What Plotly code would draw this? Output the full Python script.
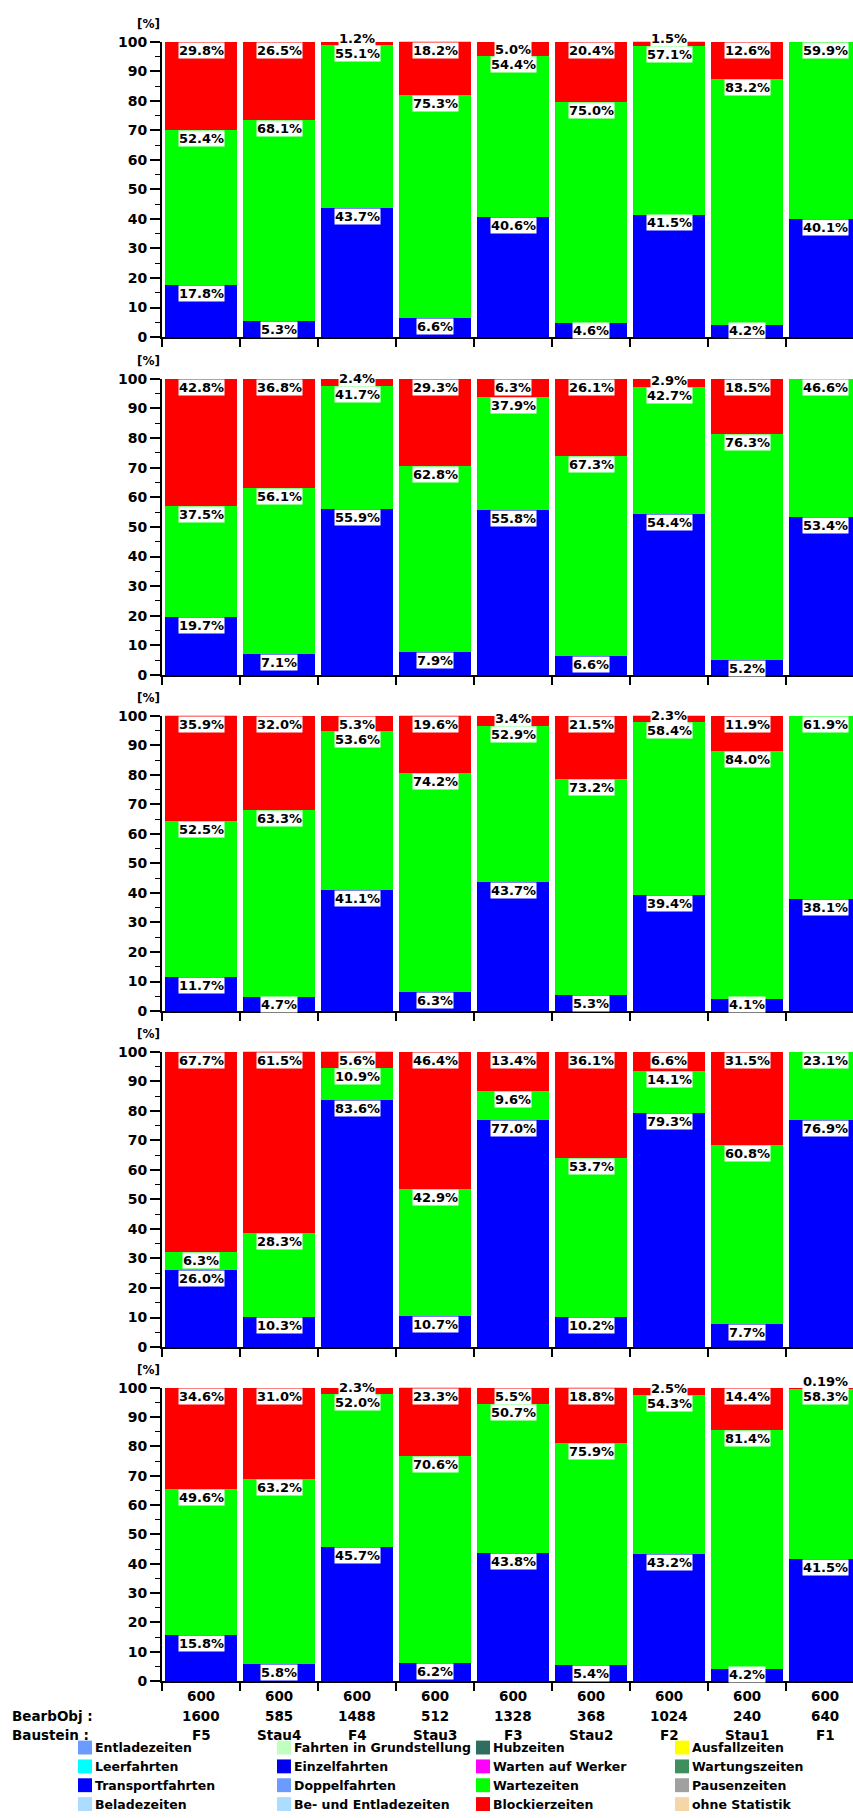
import plotly.graph_objects as go

# ---------------- data ----------------
categories = ["F5", "Stau4", "F4", "Stau3", "F3", "Stau2", "F2", "Stau1", "F1"]
row_top = ["600", "600", "600", "600", "600", "600", "600", "600", "600"]
bearb_obj = ["1600", "585", "1488", "512", "1328", "368", "1024", "240", "640"]

transportfahrten = [
    [17.8, 5.3, 43.7, 6.6, 40.6, 4.6, 41.5, 4.2, 40.1],
    [19.7, 7.1, 55.9, 7.9, 55.8, 6.6, 54.4, 5.2, 53.4],
    [11.7, 4.7, 41.1, 6.3, 43.7, 5.3, 39.4, 4.1, 38.1],
    [26.0, 10.3, 83.6, 10.7, 77.0, 10.2, 79.3, 7.7, 76.9],
    [15.8, 5.8, 45.7, 6.2, 43.8, 5.4, 43.2, 4.2, 41.5],
]
wartezeiten = [
    [52.4, 68.1, 55.1, 75.3, 54.4, 75.0, 57.1, 83.2, 59.9],
    [37.5, 56.1, 41.7, 62.8, 37.9, 67.3, 42.7, 76.3, 46.6],
    [52.5, 63.3, 53.6, 74.2, 52.9, 73.2, 58.4, 84.0, 61.9],
    [6.3, 28.3, 10.9, 42.9, 9.6, 53.7, 14.1, 60.8, 23.1],
    [49.6, 63.2, 52.0, 70.6, 50.7, 75.9, 54.3, 81.4, 58.3],
]
blockierzeiten = [
    [29.8, 26.5, 1.2, 18.2, 5.0, 20.4, 1.5, 12.6, 0.0],
    [42.8, 36.8, 2.4, 29.3, 6.3, 26.1, 2.9, 18.5, 0.0],
    [35.9, 32.0, 5.3, 19.6, 3.4, 21.5, 2.3, 11.9, 0.0],
    [67.7, 61.5, 5.6, 46.4, 13.4, 36.1, 6.6, 31.5, 0.0],
    [34.6, 31.0, 2.3, 23.3, 5.5, 18.8, 2.5, 14.4, 0.19],
]

series_names = ["Transportfahrten", "Wartezeiten", "Blockierzeiten"]
series_colors = ["#0000ff", "#00ff00", "#ff0000"]

y_ticks = [0, 10, 20, 30, 40, 50, 60, 70, 80, 90, 100]

legend_names = [
    ["Entladezeiten", "Leerfahrten", "Transportfahrten", "Beladezeiten"],
    ["Fahrten in Grundstellung", "Einzelfahrten", "Doppelfahrten", "Be- und Entladezeiten"],
    ["Hubzeiten", "Warten auf Werker", "Wartezeiten", "Blockierzeiten"],
    ["Ausfallzeiten", "Wartungszeiten", "Pausenzeiten", "ohne Statistik"],
]
legend_colors = [
    ["#6b9bff", "#00ffff", "#0000ff", "#acdcff"],
    ["#c0ffc0", "#0000ee", "#6b9bff", "#acdcff"],
    ["#2e6e60", "#ff00ff", "#00ff00", "#ff0000"],
    ["#ffff00", "#3e8e5e", "#a0a0a0", "#f5d6a8"],
]

# ---------------- layout geometry (pixels) ----------------
W, H = 853, 1818
FONT = "DejaVu Sans"
panel_px = [(34, 332), (374, 673), (714, 1012), (1053, 1351), (1392, 1688)]
x_left_px = 162
cat_px = 78.0
n_vis = (W - x_left_px) / cat_px


def py(px):
    return 1 - px / H


def pxx(px):
    return px / W


fig = go.Figure()
annotations = []
shapes = []
layout = {}

for i in range(5):
    ax = "" if i == 0 else str(i + 1)
    xa, ya = "x" + ax, "y" + ax
    vals = [transportfahrten[i], wartezeiten[i], blockierzeiten[i]]
    for s in range(3):
        fig.add_trace(go.Bar(
            x=categories, y=vals[s], name=series_names[s],
            marker=dict(color=series_colors[s], line=dict(width=0)),
            xaxis=xa, yaxis=ya, showlegend=False,
        ))
    top, bot = panel_px[i]
    layout["xaxis" + ax] = dict(
        domain=[pxx(x_left_px), 1], anchor=ya, type="category",
        categoryorder="array", categoryarray=categories,
        range=[-0.5, -0.5 + n_vis], tickson="boundaries",
        ticks="outside", ticklen=8, tickwidth=2, tickcolor="black",
        showticklabels=False, showline=True, linecolor="black", linewidth=2,
        showgrid=False, zeroline=False, fixedrange=True,
    )
    layout["yaxis" + ax] = dict(
        domain=[py(bot), py(top)], anchor=xa, range=[0, 100],
        tickmode="array", tickvals=y_ticks,
        ticks="outside", ticklen=10, tickwidth=2, tickcolor="black",
        minor=dict(dtick=5, tick0=0, ticks="outside", ticklen=5, tickwidth=1, tickcolor="black"),
        tickfont=dict(family=FONT, size=14, color="black", weight="bold"),
        showline=True, linecolor="black", linewidth=2,
        showgrid=False, zeroline=False, fixedrange=True,
    )
    # [%] label
    annotations.append(dict(
        x=pxx(148), y=py(top - 18), xref="paper", yref="paper",
        text="<b>[%]</b>", showarrow=False, xanchor="center", yanchor="middle",
        font=dict(family=FONT, size=12, color="black"),
    ))
    # segment labels with collision avoidance (positions in paper space so
    # labels pushed above 100 % are still drawn)
    unit_px = (bot - top) / 100.0
    Hd = 15.5 / unit_px
    for c, cat in enumerate(categories):
        cum = 0.0
        prev_top = 0.0
        for s in range(3):
            v = vals[s][c]
            if v <= 0:
                continue
            cum += v
            ltop = min(cum, 100.0)
            lbot = max(ltop - Hd, 0.0, prev_top)
            ltop = lbot + Hd
            prev_top = ltop
            txt = f"{v:.1f}%" if v >= 1 else f"{v:.2f}%"
            annotations.append(dict(
                x=cat, y=py(bot - ltop * unit_px), xref=xa, yref="paper",
                text="<b>" + txt + "</b>",
                showarrow=False, xanchor="center", yanchor="top",
                bgcolor="white", borderpad=0,
                font=dict(family=FONT, size=13, color="black"),
            ))

# bottom category label rows
rows_y = [1703, 1723, 1742]
baustein = categories
for c, cat in enumerate(categories):
    for r, lab in enumerate([row_top[c], bearb_obj[c], baustein[c]]):
        annotations.append(dict(
            x=cat, y=py(rows_y[r]), xref="x5", yref="paper",
            text="<b>" + lab + "</b>", showarrow=False,
            xanchor="center", yanchor="middle",
            font=dict(family=FONT, size=13.5, color="black"),
        ))
for r, lab in [(1, "BearbObj :"), (2, "Baustein :")]:
    annotations.append(dict(
        x=pxx(10), y=py(rows_y[r]), xref="paper", yref="paper",
        text="<b>" + lab + "</b>", showarrow=False,
        xanchor="left", yanchor="middle",
        font=dict(family=FONT, size=13.5, color="black"),
    ))

# custom legend grid
col_sw_x = [78, 277, 476, 675]
leg_rows_y = [1755, 1774, 1793, 1812]
for col in range(4):
    for r in range(4):
        yc = leg_rows_y[r]
        shapes.append(dict(
            type="rect", xref="paper", yref="paper",
            x0=pxx(col_sw_x[col]), x1=pxx(col_sw_x[col] + 14),
            y0=py(yc + 7), y1=py(yc - 7),
            fillcolor=legend_colors[col][r], line=dict(width=0),
        ))
        annotations.append(dict(
            x=pxx(col_sw_x[col] + 15), y=py(yc), xref="paper", yref="paper",
            text="<b>" + legend_names[col][r] + "</b>", showarrow=False,
            xanchor="left", yanchor="middle",
            font=dict(family=FONT, size=12.5, color="black"),
        ))

fig.update_layout(
    width=W, height=H, margin=dict(l=0, r=0, t=0, b=0),
    paper_bgcolor="white", plot_bgcolor="white",
    barmode="stack", bargap=0.08,
    annotations=annotations, shapes=shapes, showlegend=False,
    **layout,
)

fig.write_html("out.html")
